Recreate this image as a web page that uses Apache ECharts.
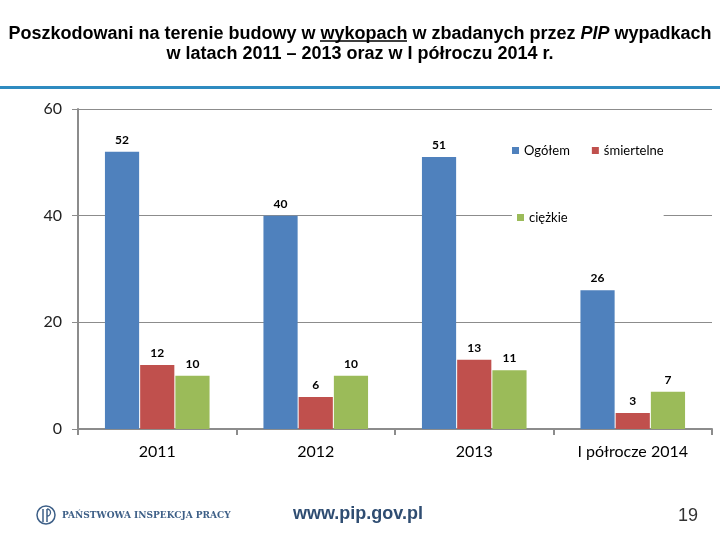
<!DOCTYPE html>
<html>
<head>
<meta charset="utf-8">
<script src="https://cdn.jsdelivr.net/npm/echarts@6/dist/echarts.min.js"></script>
<style>html,body{margin:0;padding:0;background:#fff;}#c{width:720px;height:540px;}</style>
</head>
<body>
<div id="c"></div>
<script>
var categories = ['2011', '2012', '2013', 'I półrocze 2014'];
var ogolem = [52, 40, 51, 26];
var smiertelne = [12, 6, 13, 3];
var ciezkie = [10, 10, 11, 7];
var yTicks = [0, 20, 40, 60];

var chart = echarts.init(document.getElementById('c'), null, {renderer: 'canvas'});
var labelStyle = {show: true, position: 'top', distance: 6, color: '#000', fontSize: 12, fontFamily: 'Lato', fontWeight: 'bold'};
function ser(name, data, color) {
  return {name: name, type: 'bar', data: data, barGap: '3%', barCategoryGap: '34%',
    itemStyle: {color: color}, label: labelStyle, z: 3};
}
chart.setOption({
  animation: false,
  backgroundColor: '#fff',
  title: {
    text: '{b|Poszkodowani na terenie budowy w }{u|wykopach}{b| w zbadanych przez }{i|PIP}{b| wypadkach}\n{b|w latach 2011 – 2013 oraz w I półroczu 2014 r.}',
    left: 'center', top: 19,
    textStyle: {
      rich: {
        b: {fontFamily: 'Liberation Sans', fontWeight: 'bold', fontSize: 18, color: '#000', lineHeight: 20},
        u: {fontFamily: 'Liberation Sans', fontWeight: 'bold', fontSize: 18, color: '#000', lineHeight: 20},
        i: {fontFamily: 'Liberation Sans', fontStyle: 'italic', fontSize: 18, color: '#000', lineHeight: 20}
      }
    }
  },
  legend: [
    {data: ['Ogółem', 'śmiertelne'], left: 512, top: 144, itemWidth: 7, itemHeight: 7, itemGap: 22,
     icon: 'rect', textStyle: {fontFamily: 'Lato', fontSize: 13, color: '#000'}, padding: [0, 0, 0, 0]},
    {data: ['ciężkie'], left: 512, top: 206, itemWidth: 7, itemHeight: 7, icon: 'rect',
     backgroundColor: '#fff', padding: [5, 96, 5, 5],
     textStyle: {fontFamily: 'Lato', fontSize: 13, color: '#000'}}
  ],
  grid: {left: 78, right: 8, top: 109, bottom: 111},
  xAxis: {
    type: 'category', data: categories,
    axisLine: {lineStyle: {color: '#8c8c8c', width: 2}},
    axisTick: {show: true, length: 6, lineStyle: {color: '#8c8c8c', width: 2}},
    axisLabel: {fontFamily: 'Lato', fontSize: 16, color: '#000', margin: 15}
  },
  yAxis: {
    type: 'value', min: yTicks[0], max: yTicks[yTicks.length - 1], interval: 20,
    axisLine: {show: true, lineStyle: {color: '#8c8c8c', width: 2}},
    axisTick: {show: true, length: 6, lineStyle: {color: '#8c8c8c', width: 1}},
    splitLine: {lineStyle: {color: '#8c8c8c', width: 1}},
    axisLabel: {fontFamily: 'Lato', fontSize: 16, color: '#222', margin: 16}
  },
  series: [
    ser('Ogółem', ogolem, '#4f81bd'),
    ser('śmiertelne', smiertelne, '#c0504d'),
    ser('ciężkie', ciezkie, '#9bbb59')
  ],
  graphic: [
    {type: 'rect', shape: {x: 0, y: 86, width: 720, height: 3}, style: {fill: '#2e8bc0'}},
    {type: 'line', shape: {x1: 320, y1: 41, x2: 407, y2: 41}, style: {stroke: '#000', lineWidth: 1.3}},
    {type: 'circle', shape: {cx: 46, cy: 515, r: 9}, style: {fill: 'none', stroke: '#3d5f87', lineWidth: 1.5}},
    {type: 'line', shape: {x1: 43, y1: 509, x2: 43, y2: 522}, style: {stroke: '#3d5f87', lineWidth: 1.5}},
    {type: 'line', shape: {x1: 47, y1: 509, x2: 47, y2: 522}, style: {stroke: '#3d5f87', lineWidth: 1.5}},
    {type: 'arc', shape: {cx: 47, cy: 512.5, r: 3.5, startAngle: -Math.PI / 2, endAngle: Math.PI / 2}, style: {fill: 'none', stroke: '#3d5f87', lineWidth: 1.3}},
    {type: 'text', left: 62, top: 511, style: {text: 'PAŃSTWOWA INSPEKCJA PRACY', font: 'bold 9px "DejaVu Serif"', fill: '#3d5f87'}},
    {type: 'text', left: 293, top: 505, style: {text: 'www.pip.gov.pl', font: 'bold 18px "Liberation Sans"', fill: '#2f4d72'}},
    {type: 'text', left: 678, top: 507, style: {text: '19', font: '18px "Liberation Sans"', fill: '#333'}}
  ]
});
</script>
</body>
</html>
